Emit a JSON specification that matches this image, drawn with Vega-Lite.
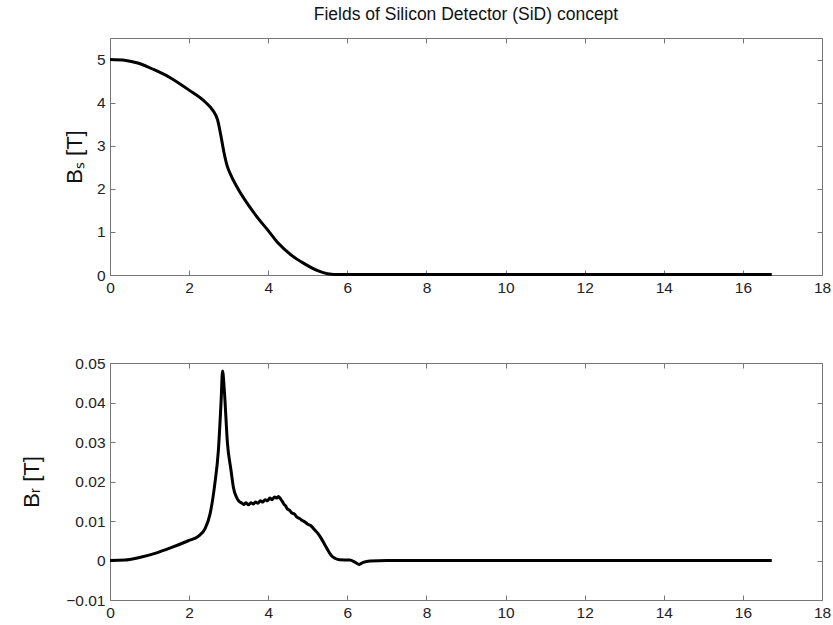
{
"$schema": "https://vega.github.io/schema/vega-lite/v6.json",
"background": "white",
"padding": {"left": 20, "top": 6, "right": 6, "bottom": 4},
"spacing": 60,
"config": {
  "view": {"stroke": null},
  "font": "Liberation Sans",
  "axis": {"grid": false, "domainColor": "#777", "tickColor": "#777", "tickSize": -5, "labelPadding": 10, "labelFont": "Liberation Sans", "labelFontSize": 15.5, "labelColor": "#222", "titleFont": "Liberation Sans", "titleFontSize": 22, "titleFontWeight": "normal", "titleColor": "#111", "labelFlush": false, "labelOverlap": false}
},
"datasets": {
  "bs": [
    {"x": 0, "y": 5.0}, {"x": 0.4, "y": 4.98}, {"x": 0.7, "y": 4.92}, {"x": 1.1, "y": 4.77}, {"x": 1.5, "y": 4.59},
    {"x": 2.0, "y": 4.29}, {"x": 2.4, "y": 4.02}, {"x": 2.6, "y": 3.82}, {"x": 2.72, "y": 3.6}, {"x": 2.8, "y": 3.25},
    {"x": 2.88, "y": 2.85}, {"x": 2.96, "y": 2.54}, {"x": 3.05, "y": 2.33}, {"x": 3.2, "y": 2.06}, {"x": 3.5, "y": 1.62},
    {"x": 3.75, "y": 1.31}, {"x": 4.0, "y": 1.03}, {"x": 4.25, "y": 0.74}, {"x": 4.6, "y": 0.45}, {"x": 4.9, "y": 0.27},
    {"x": 5.25, "y": 0.1}, {"x": 5.5, "y": 0.03}, {"x": 5.8, "y": 0.01}, {"x": 16.73, "y": 0.01}
  ],
  "br": [
    {"x": 0, "y": 0}, {"x": 0.38, "y": 0.0001}, {"x": 0.72, "y": 0.0007}, {"x": 1.14, "y": 0.0018}, {"x": 1.56, "y": 0.0033},
    {"x": 1.98, "y": 0.005}, {"x": 2.23, "y": 0.0061}, {"x": 2.4, "y": 0.008}, {"x": 2.53, "y": 0.0118}, {"x": 2.65, "y": 0.0194},
    {"x": 2.74, "y": 0.0279}, {"x": 2.81, "y": 0.0406}, {"x": 2.845, "y": 0.048}, {"x": 2.89, "y": 0.0431}, {"x": 2.97, "y": 0.0296},
    {"x": 3.06, "y": 0.0228}, {"x": 3.12, "y": 0.0185}, {"x": 3.2, "y": 0.016}, {"x": 3.26, "y": 0.015}, {"x": 3.32, "y": 0.0146},
    {"x": 3.38, "y": 0.0142}, {"x": 3.44, "y": 0.0146}, {"x": 3.5, "y": 0.0141}, {"x": 3.56, "y": 0.0146}, {"x": 3.62, "y": 0.0143},
    {"x": 3.68, "y": 0.0148}, {"x": 3.74, "y": 0.0145}, {"x": 3.8, "y": 0.0151}, {"x": 3.86, "y": 0.0148}, {"x": 3.92, "y": 0.0154},
    {"x": 3.98, "y": 0.0151}, {"x": 4.04, "y": 0.0158}, {"x": 4.1, "y": 0.0154}, {"x": 4.16, "y": 0.0161}, {"x": 4.22, "y": 0.0158},
    {"x": 4.26, "y": 0.0162}, {"x": 4.32, "y": 0.0155}, {"x": 4.36, "y": 0.0149}, {"x": 4.4, "y": 0.0142}, {"x": 4.44, "y": 0.0138},
    {"x": 4.48, "y": 0.0131}, {"x": 4.54, "y": 0.0127}, {"x": 4.6, "y": 0.012}, {"x": 4.66, "y": 0.0118}, {"x": 4.72, "y": 0.011},
    {"x": 4.8, "y": 0.0106}, {"x": 4.86, "y": 0.0101}, {"x": 4.92, "y": 0.0098}, {"x": 5.0, "y": 0.0092}, {"x": 5.08, "y": 0.0088},
    {"x": 5.16, "y": 0.0079}, {"x": 5.26, "y": 0.0068}, {"x": 5.34, "y": 0.0056}, {"x": 5.43, "y": 0.004}, {"x": 5.52, "y": 0.0024},
    {"x": 5.6, "y": 0.0012}, {"x": 5.7, "y": 0.0005}, {"x": 5.8, "y": 0.0002}, {"x": 6.06, "y": 0.0001}, {"x": 6.19, "y": -0.0004},
    {"x": 6.3, "y": -0.001}, {"x": 6.4, "y": -0.0005}, {"x": 6.57, "y": -0.0001}, {"x": 7.0, "y": 0}, {"x": 16.73, "y": 0}
  ]
},
"vconcat": [
  {
    "width": 712, "height": 237,
    "title": {"text": "Fields of Silicon Detector (SiD) concept", "font": "Liberation Sans", "fontSize": 17.5, "fontWeight": "normal", "color": "#111", "anchor": "middle", "frame": "group", "offset": 14},
    "data": {"name": "bs"},
    "layer": [
      {"mark": {"type": "line", "color": "black", "strokeWidth": 3, "interpolate": "monotone", "strokeJoin": "round"},
       "encoding": {
         "x": {"field": "x", "type": "quantitative", "scale": {"domain": [0, 18], "nice": false, "zero": false}, "axis": {"values": [0, 2, 4, 6, 8, 10, 12, 14, 16, 18], "title": null}},
         "y": {"field": "y", "type": "quantitative", "scale": {"domain": [0, 5.5], "nice": false}, "axis": {"values": [0, 1, 2, 3, 4, 5], "title": "Bₛ [T]", "titlePadding": 10}}
       }},
      {"mark": {"type": "line", "strokeOpacity": 0},
       "encoding": {
         "x": {"field": "x", "type": "quantitative", "axis": {"orient": "top", "values": [0, 2, 4, 6, 8, 10, 12, 14, 16, 18], "labels": false, "title": null}},
         "y": {"field": "y", "type": "quantitative", "axis": {"orient": "right", "values": [0, 1, 2, 3, 4, 5], "labels": false, "title": null}}
       }}
    ],
    "resolve": {"axis": {"x": "independent", "y": "independent"}}
  },
  {
    "width": 712, "height": 237,
    "data": {"name": "br"},
    "layer": [
      {"mark": {"type": "line", "color": "black", "strokeWidth": 3, "interpolate": "monotone", "strokeJoin": "round"},
       "encoding": {
         "x": {"field": "x", "type": "quantitative", "scale": {"domain": [0, 18], "nice": false, "zero": false}, "axis": {"values": [0, 2, 4, 6, 8, 10, 12, 14, 16, 18], "title": null}},
         "y": {"field": "y", "type": "quantitative", "scale": {"domain": [-0.01, 0.05], "nice": false}, "axis": {"values": [-0.01, 0, 0.01, 0.02, 0.03, 0.04, 0.05], "format": "~g", "title": "Bᵣ [T]", "titlePadding": 22}}
       }},
      {"mark": {"type": "line", "strokeOpacity": 0},
       "encoding": {
         "x": {"field": "x", "type": "quantitative", "axis": {"orient": "top", "values": [0, 2, 4, 6, 8, 10, 12, 14, 16, 18], "labels": false, "title": null}},
         "y": {"field": "y", "type": "quantitative", "axis": {"orient": "right", "values": [-0.01, 0, 0.01, 0.02, 0.03, 0.04, 0.05], "labels": false, "title": null}}
       }}
    ],
    "resolve": {"axis": {"x": "independent", "y": "independent"}}
  }
]
}
